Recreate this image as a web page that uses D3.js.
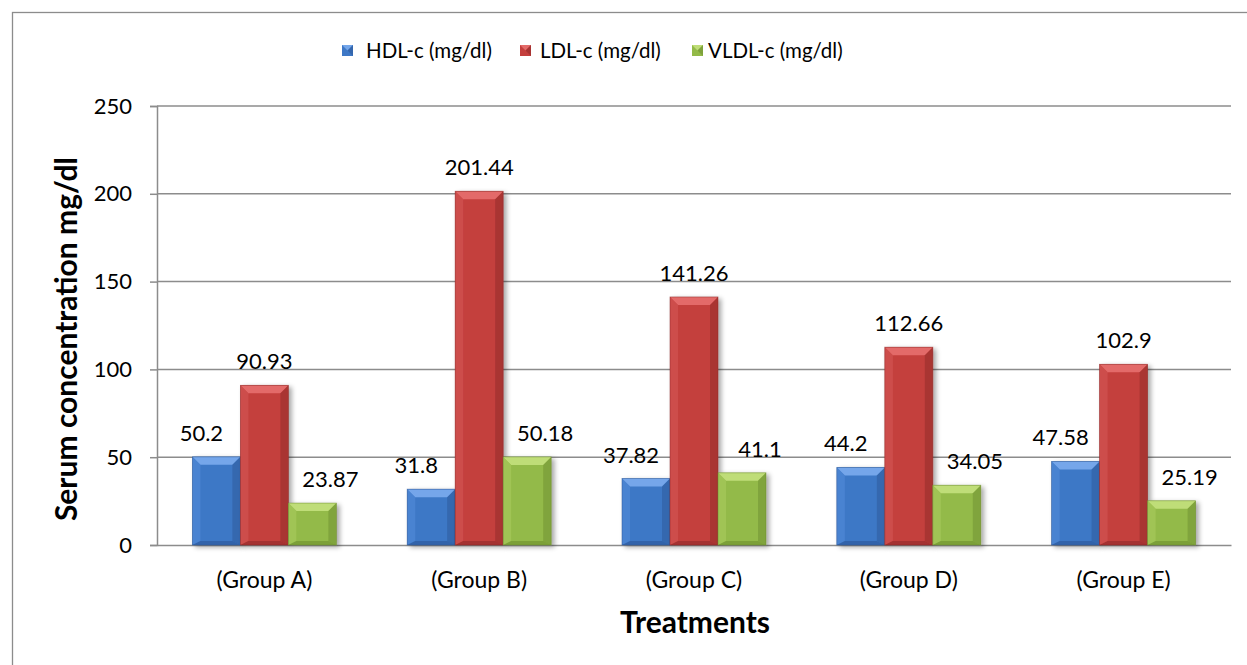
<!DOCTYPE html>
<html><head><meta charset="utf-8">
<script src="https://cdn.jsdelivr.net/npm/d3@7"></script>
<style>
html,body{margin:0;padding:0;background:#fff;}
svg{display:block;}
text{font-family:Lato,"Open Sans",sans-serif;fill:#000;}
</style></head>
<body>
<svg id="c" width="1247" height="665"></svg>
<script>
const categories = ["(Group A)", "(Group B)", "(Group C)", "(Group D)", "(Group E)"];
const seriesNames = ["HDL-c (mg/dl)", "LDL-c (mg/dl)", "VLDL-c (mg/dl)"];
const hdl = [50.2, 31.8, 37.82, 44.2, 47.58];
const ldl = [90.93, 201.44, 141.26, 112.66, 102.9];
const vldl = [23.87, 50.18, 41.1, 34.05, 25.19];
const yTicks = [0, 50, 100, 150, 200, 250];
const labelText = [
  ["50.2", "31.8", "37.82", "44.2", "47.58"],
  ["90.93", "201.44", "141.26", "112.66", "102.9"],
  ["23.87", "50.18", "41.1", "34.05", "25.19"]
];
const colors = [
  {main:"#3e78c6", light:"#74a6ea", side:"#5088d6", dark:"#2a5493"},
  {main:"#c43f3d", light:"#e36b69", side:"#d25452", dark:"#8a2827"},
  {main:"#93ba48", light:"#bfdd78", side:"#a5c95b", dark:"#6a8a2e"}
];

const svg = d3.select("#c");
const m = {left:157, right:1231, top:106, bottom:545};

// outer border
svg.append("rect").attr("x",12.5).attr("y",12.5).attr("width",1240).attr("height",670)
  .attr("fill","none").attr("stroke","#8c8c8c").attr("stroke-width",1.3);

const x0 = d3.scaleBand().domain(categories).range([m.left, m.right]).paddingInner(0).paddingOuter(0);
const innerW = 144;
const x1 = d3.scaleBand().domain(seriesNames).range([0, innerW]);
const y = d3.scaleLinear().domain([0,250]).range([m.bottom, m.top]);

const defs = svg.append("defs");
const f = defs.append("filter").attr("id","sh").attr("x","-20%").attr("y","-20%").attr("width","150%").attr("height","150%");
f.append("feGaussianBlur").attr("in","SourceAlpha").attr("stdDeviation",2.5);
f.append("feOffset").attr("dx",3).attr("dy",2).attr("result","b");
f.append("feComponentTransfer").append("feFuncA").attr("type","linear").attr("slope",0.35);
const mg = f.append("feMerge"); mg.append("feMergeNode"); mg.append("feMergeNode").attr("in","SourceGraphic");

// gridlines
const grid = svg.append("g");
grid.selectAll("line").data(yTicks.filter(d=>d>0)).join("line")
  .attr("x1",m.left).attr("x2",m.right).attr("y1",d=>y(d)).attr("y2",d=>y(d))
  .attr("stroke","#8c8c8c").attr("stroke-width",1.5);

// y axis
const yAxis = d3.axisLeft(y).tickValues(yTicks).tickSize(7).tickPadding(18).tickFormat(d3.format("d"));
const ya = svg.append("g").attr("transform",`translate(${m.left},0)`).call(yAxis);
ya.attr("font-size",null).attr("font-family",null);
ya.select(".domain").attr("stroke","#8c8c8c").attr("stroke-width",1.5);
ya.selectAll(".tick line").attr("stroke","#8c8c8c").attr("stroke-width",1.5);
ya.selectAll(".tick text").style("font-size","22px").attr("fill","#000");

// x axis
const xAxis = d3.axisBottom(x0).tickSize(0).tickPadding(27);
const xa = svg.append("g").attr("transform",`translate(0,${m.bottom})`).call(xAxis);
xa.attr("font-size",null).attr("font-family",null);
xa.select(".domain").attr("stroke","#8c8c8c").attr("stroke-width",1.5);
xa.selectAll(".tick text").style("font-size","23px").attr("fill","#000");

// bars
const data = [hdl, ldl, vldl];
const bevel = 8;
const barsG = svg.append("g");
function drawBar(g, bx, by, bw, bh, c){
  const b = Math.min(bevel, bh/2, bw/2);
  const gg = g.append("g").attr("filter","url(#sh)");
  gg.append("rect").attr("x",bx).attr("y",by).attr("width",bw).attr("height",bh).attr("fill",c.main);
  gg.append("polygon").attr("points",`${bx},${by} ${bx+bw},${by} ${bx+bw-b},${by+b} ${bx+b},${by+b}`).attr("fill",c.light);
  gg.append("polygon").attr("points",`${bx},${by} ${bx+b},${by+b} ${bx+b},${by+bh-b/2} ${bx},${by+bh}`).attr("fill",c.side).attr("opacity",0.7);
  gg.append("polygon").attr("points",`${bx+bw},${by} ${bx+bw-b},${by+b} ${bx+bw-b},${by+bh-b/2} ${bx+bw},${by+bh}`).attr("fill",c.dark).attr("opacity",0.45);
  gg.append("polygon").attr("points",`${bx},${by+bh} ${bx+b},${by+bh-b/2} ${bx+bw-b},${by+bh-b/2} ${bx+bw},${by+bh}`).attr("fill",c.dark).attr("opacity",0.55);
  gg.append("rect").attr("x",bx).attr("y",by).attr("width",bw).attr("height",bh).attr("fill","none").attr("stroke",c.dark).attr("stroke-width",0.8).attr("stroke-opacity",0.6);
}
const labelDx = [-15, 0, 18];
categories.forEach((cat,i)=>{
  const gx = x0(cat) + (x0.bandwidth()-innerW)/2;
  seriesNames.forEach((s,j)=>{
    const v = data[j][i];
    const bx = gx + x1(s), bw = x1.bandwidth();
    drawBar(barsG, bx, y(v), bw, y(0)-y(v), colors[j]);
  });
});
// labels
const lg = svg.append("g");
categories.forEach((cat,i)=>{
  const gx = x0(cat) + (x0.bandwidth()-innerW)/2;
  seriesNames.forEach((s,j)=>{
    const v = data[j][i];
    lg.append("text").attr("x",gx + x1(s) + x1.bandwidth()/2 + labelDx[j]).attr("y",y(v)-16)
      .attr("text-anchor","middle").style("font-size","22px").text(labelText[j][i]);
  });
});

// legend
const legX = [342, 520, 692];
const legT = [366, 540, 708];
const leg = svg.append("g");
seriesNames.forEach((s,j)=>{
  const g = leg.append("g");
  const c = colors[j], sx = legX[j], sy = 45, sz = 11;
  g.append("rect").attr("x",sx).attr("y",sy).attr("width",sz).attr("height",sz).attr("fill",c.main);
  g.append("polygon").attr("points",`${sx},${sy} ${sx+sz},${sy} ${sx+sz/2},${sy+sz/2}`).attr("fill",c.light);
  g.append("polygon").attr("points",`${sx+sz},${sy} ${sx+sz},${sy+sz} ${sx+sz/2},${sy+sz/2}`).attr("fill",c.dark).attr("opacity",0.5);
  g.append("text").attr("x",legT[j]).attr("y",sy+sz/2).attr("dy","0.35em").style("font-size","20.5px").text(s);
});

// axis titles
svg.append("text").attr("transform",`translate(77,339) rotate(-90)`)
  .attr("text-anchor","middle").style("font-size","30px").attr("font-weight","bold").text("Serum concentration mg/dl");
svg.append("text").attr("x",695).attr("y",633).attr("text-anchor","middle")
  .style("font-size","30px").attr("font-weight","bold").text("Treatments");
</script>
</body></html>
